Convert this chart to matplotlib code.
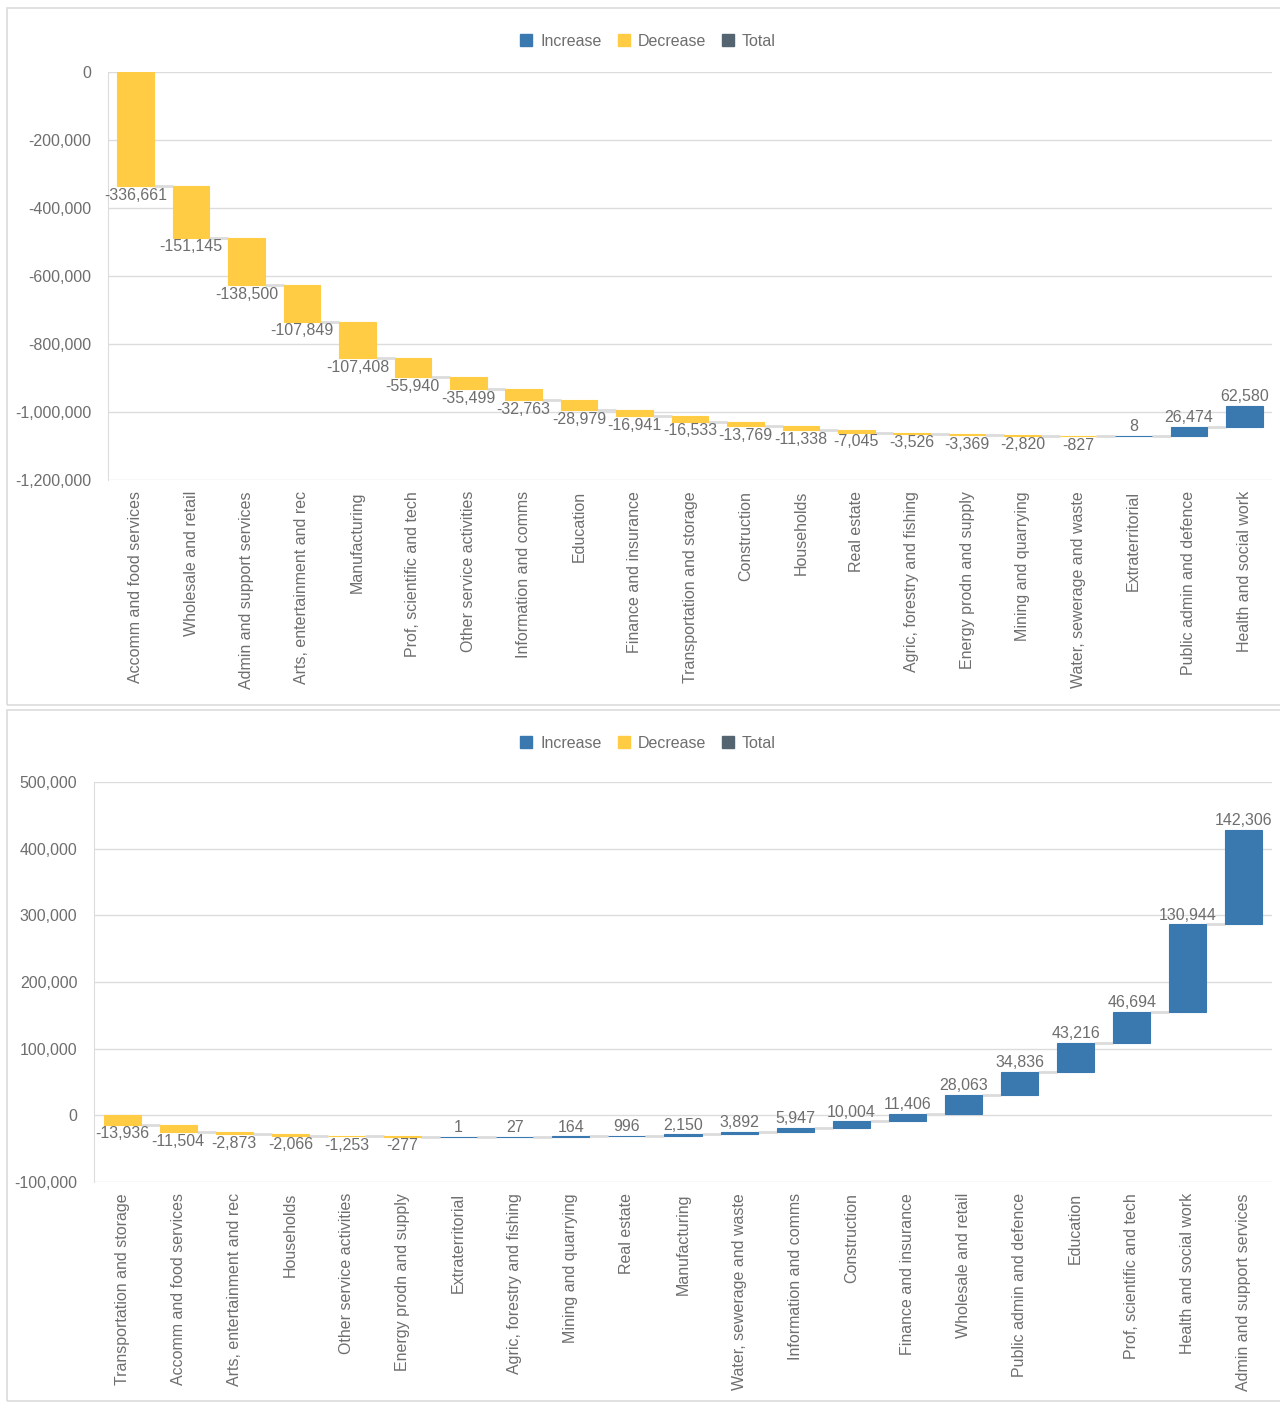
import matplotlib.pyplot as plt
import matplotlib.patches as mpatches
import numpy as np

plt.rcParams['font.family'] = ['Liberation Sans', 'DejaVu Sans']

# top chart
top_cats = ["Accomm and food services", "Wholesale and retail", "Admin and support services",
            "Arts, entertainment and rec", "Manufacturing", "Prof, scientific and tech",
            "Other service activities", "Information and comms", "Education",
            "Finance and insurance", "Transportation and storage", "Construction",
            "Households", "Real estate", "Agric, forestry and fishing", "Energy prodn and supply",
            "Mining and quarrying", "Water, sewerage and waste", "Extraterritorial",
            "Public admin and defence", "Health and social work"]
top_vals = [-336661, -151145, -138500, -107849, -107408, -55940, -35499, -32763, -28979,
            -16941, -16533, -13769, -11338, -7045, -3526, -3369, -2820, -827, 8, 26474, 62580]

# bottom chart
bot_cats = ["Transportation and storage", "Accomm and food services", "Arts, entertainment and rec",
            "Households", "Other service activities", "Energy prodn and supply", "Extraterritorial",
            "Agric, forestry and fishing", "Mining and quarrying", "Real estate", "Manufacturing",
            "Water, sewerage and waste", "Information and comms", "Construction",
            "Finance and insurance", "Wholesale and retail", "Public admin and defence",
            "Education", "Prof, scientific and tech", "Health and social work",
            "Admin and support services"]
bot_vals = [-13936, -11504, -2873, -2066, -1253, -277, 1, 27, 164, 996, 2150, 3892, 5947,
            10004, 11406, 28063, 34836, 43216, 46694, 130944, 142306]

INC = '#3A78B0'
DEC = '#FFCC44'
TOT = '#546470'
GRID = '#DCDCDC'
TXT = '#6E6E6E'

W, H = 1280, 1403
fig = plt.figure(figsize=(W / 100, H / 100), dpi=100)


def px_rect(x0, y0, x1, y1):
    return [x0 / W, 1 - y1 / H, (x1 - x0) / W, (y1 - y0) / H]


def waterfall(ax, cats, vals, ylim, step):
    vals = np.array(vals, dtype=float)
    ends = np.cumsum(vals)
    starts = ends - vals
    x = np.arange(len(vals))
    bw = 0.66
    cols = [INC if v >= 0 else DEC for v in vals]
    ax.bar(x, vals, bottom=starts, width=bw, color=cols, edgecolor=cols, linewidth=0.8,
           zorder=3)
    for i in range(len(vals) - 1):
        ax.plot([i + bw / 2, i + 1 - bw / 2], [ends[i], ends[i]], color=GRID, lw=2.0,
                zorder=2, solid_capstyle='butt')
    span = ylim[1] - ylim[0]
    for i, v in enumerate(vals):
        lab = f"{int(v):,}"
        if v >= 0:
            ax.text(i, ends[i] + span * 0.004, lab, ha='center', va='bottom', fontsize=11.5,
                    color=TXT, zorder=4)
        else:
            ax.text(i, ends[i] - span * 0.004, lab, ha='center', va='top', fontsize=11.5,
                    color=TXT, zorder=4)
    ax.set_xlim(-0.5, len(vals) - 0.5)
    ax.set_ylim(*ylim)
    ax.set_yticks(np.arange(ylim[0], ylim[1] + 1, step))
    ax.yaxis.set_major_formatter(plt.FuncFormatter(lambda v, p: f"{int(v):,}"))
    ax.set_xticks(x)
    ax.set_xticklabels(cats, rotation=90, fontsize=11.5, color=TXT)
    ax.tick_params(axis='y', labelsize=11.5, labelcolor=TXT, length=0, pad=12)
    ax.tick_params(axis='x', length=0, pad=8)
    ax.grid(axis='y', color=GRID, lw=1, zorder=0)
    for s in ['top', 'right', 'bottom']:
        ax.spines[s].set_visible(False)
    ax.spines['left'].set_color(GRID)


def legend(ypix):
    handles = [mpatches.Patch(color=INC, label='Increase'),
               mpatches.Patch(color=DEC, label='Decrease'),
               mpatches.Patch(color=TOT, label='Total')]
    leg = fig.legend(handles=handles, loc='center', bbox_to_anchor=(648 / W, 1 - ypix / H),
                     ncol=3, frameon=False, fontsize=11.5, handlelength=0.75,
                     handleheight=0.75, handletextpad=0.5, columnspacing=1.0)
    for t in leg.get_texts():
        t.set_color(TXT)


# panel borders
for (y0, y1) in [(8, 705), (710, 1401)]:
    fig.patches.append(mpatches.Rectangle((7 / W, 1 - y1 / H), (W + 5 - 7) / W, (y1 - y0) / H,
                                          transform=fig.transFigure, fill=False,
                                          edgecolor=GRID, lw=1.2))

ax1 = fig.add_axes(px_rect(108, 72, 1272, 480))
waterfall(ax1, top_cats, top_vals, (-1200000, 0), 200000)
legend(41)

ax2 = fig.add_axes(px_rect(94, 782, 1272, 1182))
waterfall(ax2, bot_cats, bot_vals, (-100000, 500000), 100000)
legend(743)

fig.savefig('out.png', dpi=100, facecolor='white')
